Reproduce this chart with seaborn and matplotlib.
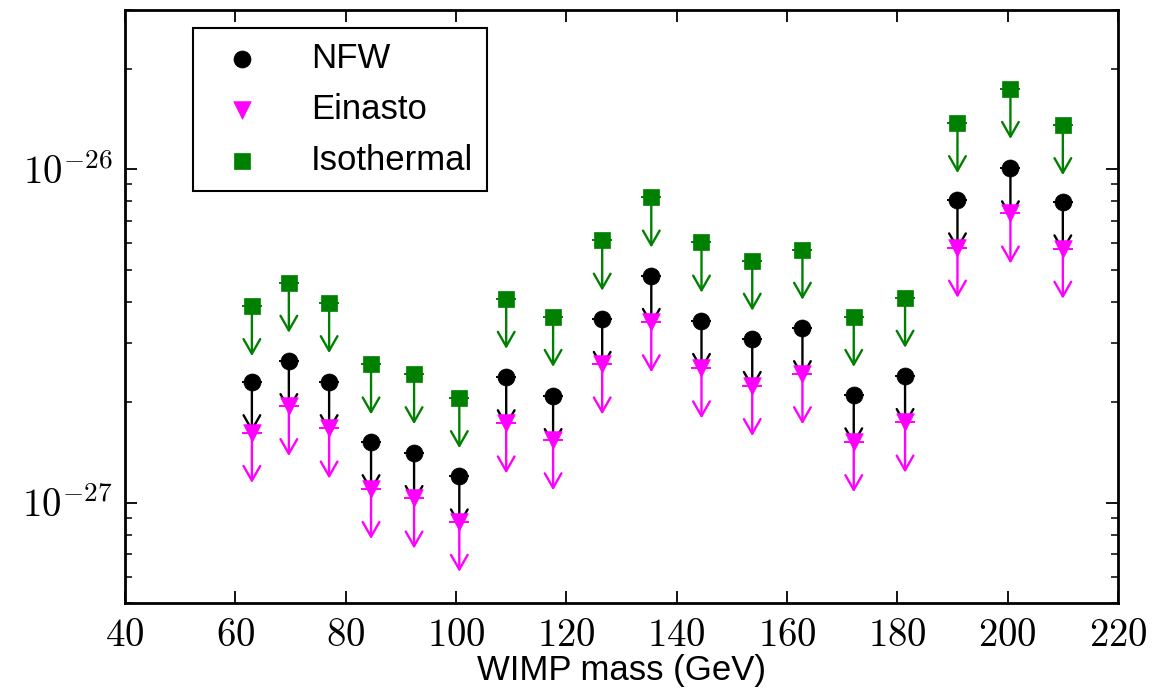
import matplotlib
matplotlib.use("Agg")
import matplotlib.pyplot as plt
import matplotlib.ticker as mticker
import seaborn as sns
import numpy as np

# ---- data ----
mass = [63.0, 69.7, 77.0, 84.6, 92.4, 100.6, 109.1, 117.6, 126.5, 135.4,
        144.5, 153.7, 162.8, 172.1, 181.4, 190.9, 200.5, 210.0]
nfw = [2.30e-27, 2.66e-27, 2.30e-27, 1.52e-27, 1.41e-27, 1.20e-27, 2.38e-27, 2.09e-27, 3.56e-27,
       4.79e-27, 3.51e-27, 3.10e-27, 3.34e-27, 2.10e-27, 2.40e-27, 8.07e-27, 1.007e-26, 7.96e-27]
einasto = [1.62e-27, 1.95e-27, 1.67e-27, 1.10e-27, 1.03e-27, 8.77e-28, 1.73e-27, 1.54e-27, 2.60e-27,
           3.48e-27, 2.53e-27, 2.24e-27, 2.43e-27, 1.52e-27, 1.74e-27, 5.82e-27, 7.37e-27, 5.78e-27]
isothermal = [3.89e-27, 4.57e-27, 3.97e-27, 2.60e-27, 2.43e-27, 2.06e-27, 4.09e-27, 3.61e-27, 6.11e-27,
              8.23e-27, 6.03e-27, 5.32e-27, 5.74e-27, 3.61e-27, 4.12e-27, 1.376e-26, 1.742e-26, 1.357e-26]
series_names = ["NFW", "Einasto", "Isothermal"]
x_ticks = [40, 60, 80, 100, 120, 140, 160, 180, 200, 220]
y_ticks = [1e-27, 1e-26]

sns.set_theme(style="ticks")
plt.rcParams["font.family"] = ["Liberation Sans", "DejaVu Sans"]
plt.rcParams["mathtext.fontset"] = "cm"
plt.rcParams["text.color"] = "black"
plt.rcParams["axes.labelcolor"] = "black"
plt.rcParams["xtick.color"] = "black"
plt.rcParams["ytick.color"] = "black"

fig = plt.figure(figsize=(11.72, 6.92), dpi=100)
ax = fig.add_axes([125 / 1172, 89 / 692, 993 / 1172, 593 / 692])

arrow_factor = 0.707
colors = {"NFW": "black", "Einasto": "#ff00ff", "Isothermal": "#008000"}
markers = {"NFW": "o", "Einasto": "v", "Isothermal": "s"}
data = {"NFW": nfw, "Einasto": einasto, "Isothermal": isothermal}
zorders = {"Isothermal": 2, "NFW": 3, "Einasto": 5}


def draw_arrows(name, z):
    c = colors[name]
    for xm, yv in zip(mass, data[name]):
        ax.annotate("", xy=(xm, yv * arrow_factor), xytext=(xm, yv),
                    arrowprops=dict(arrowstyle="->, head_length=0.7, head_width=0.4",
                                    mutation_scale=15, lw=1.7, color=c,
                                    shrinkA=0, shrinkB=0),
                    zorder=z)
    ax.plot(mass, data[name], linestyle="none", marker="_", markersize=15,
            markeredgewidth=1.4, color=c, zorder=z)


for name in ["Isothermal", "NFW", "Einasto"]:
    draw_arrows(name, zorders[name])

sizes = {"NFW": 150, "Einasto": 160, "Isothermal": 140}
for name in ["NFW", "Einasto", "Isothermal"]:
    sns.scatterplot(x=mass, y=data[name], marker=markers[name], color=colors[name],
                    edgecolor=colors[name], s=sizes[name], linewidth=0.5,
                    label=name, ax=ax, zorder=zorders[name] + 0.5)

ax.set_yscale("log")
ax.set_xlim(40, 220)
ax.set_ylim(5e-28, 3e-26)
ax.set_xticks(x_ticks)
ax.xaxis.set_major_formatter(mticker.FuncFormatter(lambda v, p: r"$%d$" % int(round(v))))
ax.yaxis.set_major_locator(mticker.FixedLocator(y_ticks))
ax.yaxis.set_major_formatter(mticker.FuncFormatter(lambda v, p: r"$10^{%d}$" % int(round(np.log10(v)))))
ax.yaxis.set_minor_locator(mticker.LogLocator(base=10, subs=np.arange(2, 10)))
ax.yaxis.set_minor_formatter(mticker.NullFormatter())

ax.tick_params(which="major", direction="in", length=8.5, width=1.3, top=True, right=True,
               labelsize=28, pad=9)
ax.tick_params(axis="x", which="major", pad=11)
ax.tick_params(which="minor", direction="in", length=5, width=1.1, top=False, right=True, left=True)
for sp in ax.spines.values():
    sp.set_linewidth(2.0)
    sp.set_color("black")

ax.set_xlabel("WIMP mass (GeV)", fontsize=25, labelpad=0)

leg = ax.legend(loc="upper left", bbox_to_anchor=((193 - 125) / 993, (603 - 28) / 593),
                borderaxespad=0, fontsize=25, frameon=True, fancybox=False,
                labelspacing=0.52, handletextpad=1.0, borderpad=0.4, handlelength=2.0)
leg.get_frame().set_edgecolor("black")
leg.get_frame().set_linewidth(1.5)
leg.get_frame().set_alpha(1)

fig.savefig("out.png", dpi=100)
